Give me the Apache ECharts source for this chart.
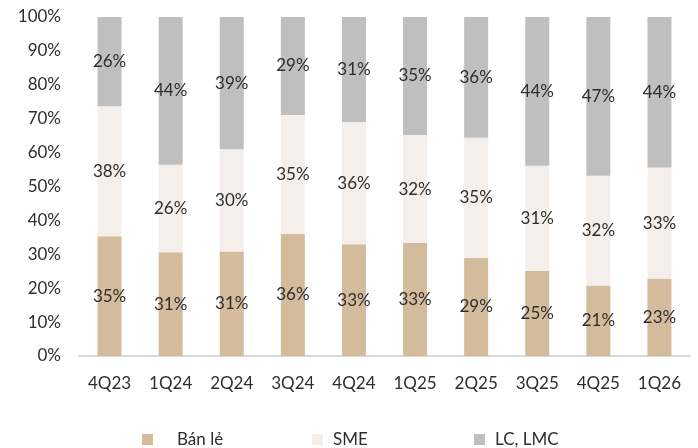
<!DOCTYPE html>
<html>
<head>
<meta charset="utf-8">
<script src="https://cdn.jsdelivr.net/npm/echarts@6/dist/echarts.min.js"></script>
<style>
  html, body { margin: 0; padding: 0; background: #fff; }
  #chart { width: 698px; height: 448px; }
</style>
</head>
<body>
<div id="chart"></div>
<script>
// Quarterly loan mix by customer segment (share of total, %)
const quarters = ['4Q23', '1Q24', '2Q24', '3Q24', '4Q24', '1Q25', '2Q25', '3Q25', '4Q25', '1Q26'];
const retail = [35.3, 30.6, 30.8, 36.0, 33.0, 33.3, 29.0, 25.1, 20.8, 22.8];
const sme = [38.4, 25.8, 30.2, 35.1, 36.0, 31.9, 35.4, 31.0, 32.4, 32.8];
const corporate = [26.3, 43.6, 39.0, 28.9, 31.0, 34.8, 35.6, 43.9, 46.8, 44.4];
const yTicks = [0, 10, 20, 30, 40, 50, 60, 70, 80, 90, 100];

const seriesNames = ['Bán lẻ', 'SME', 'LC, LMC'];
const seriesColors = ['#D3BB9C', '#F4EFEA', '#BFBFBF'];
const FONT = 'Lato';
const TEXT = '#2E2E2E';

const chart = echarts.init(document.getElementById('chart'));

function makeSeries(name, data, color) {
  return {
    name: name,
    type: 'bar',
    stack: 'mix',
    barWidth: 24,
    data: data,
    itemStyle: { color: color },
    label: {
      show: true,
      position: 'inside',
      color: TEXT,
      fontFamily: FONT,
      fontSize: 17,
      formatter: p => Math.round(p.value) + '%'
    },
    emphasis: { disabled: true }
  };
}

function makeLegend(name, left, textGap) {
  return {
    data: [name],
    left: left,
    top: 426,
    icon: 'rect',
    itemWidth: 11,
    itemHeight: 11,
    itemGap: 0,
    textStyle: { color: TEXT, fontFamily: FONT, fontSize: 17, padding: [0, 0, 0, textGap] },
    selectedMode: false
  };
}

chart.setOption({
  animation: false,
  color: seriesColors,
  legend: [
    makeLegend(seriesNames[0], 137, 19),
    makeLegend(seriesNames[1], 307, 5),
    makeLegend(seriesNames[2], 469, 5)
  ],
  grid: { left: 79, right: 8, top: 17, bottom: 92 },
  xAxis: {
    type: 'category',
    data: quarters,
    axisLine: { lineStyle: { color: '#D9D9D9', width: 2 } },
    axisTick: { show: false },
    axisLabel: { color: TEXT, fontFamily: FONT, fontSize: 17, margin: 19 }
  },
  yAxis: {
    type: 'value',
    min: yTicks[0],
    max: yTicks[yTicks.length - 1],
    interval: yTicks[1] - yTicks[0],
    axisLine: { show: false },
    axisTick: { show: false },
    splitLine: { show: false },
    axisLabel: { color: TEXT, fontFamily: FONT, fontSize: 17, margin: 18, formatter: v => v + '%' }
  },
  series: [
    makeSeries(seriesNames[0], retail, seriesColors[0]),
    makeSeries(seriesNames[1], sme, seriesColors[1]),
    makeSeries(seriesNames[2], corporate, seriesColors[2])
  ]
});
</script>
</body>
</html>
